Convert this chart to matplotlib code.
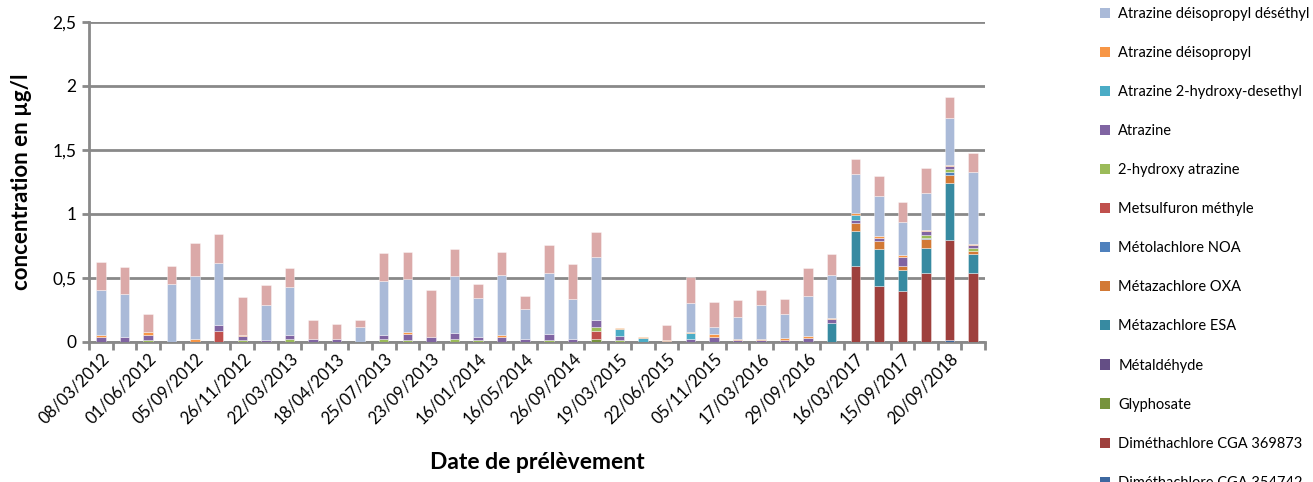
import matplotlib
matplotlib.use("Agg")
import matplotlib.pyplot as plt
from matplotlib.patches import Patch
from matplotlib.transforms import ScaledTranslation
import numpy as np

# ---------------- data ----------------
date_labels = ["08/03/2012", "01/06/2012", "05/09/2012", "26/11/2012", "22/03/2013",
               "18/04/2013", "25/07/2013", "23/09/2013", "16/01/2014", "16/05/2014",
               "26/09/2014", "19/03/2015", "22/06/2015", "05/11/2015", "17/03/2016",
               "29/09/2016", "16/03/2017", "15/09/2017", "20/09/2018"]
n_samples = 38  # one label shown every two samples

dimetha_354742 = [0]*36 + [0.013, 0]
dimetha_369873 = [0]*32 + [0.593, 0.434, 0.395, 0.541, 0.782, 0.536]
glyphosate = [0]*21 + [0.026] + [0]*16
metaldehyde = [0]*38
metaza_esa = [0]*31 + [0.146, 0.275, 0.293, 0.167, 0.193, 0.450, 0.149]
metaza_oxa = [0]*32 + [0.058, 0.063, 0.034, 0.068, 0.060, 0.026]
metola_noa = [0]*35 + [0.010, 0.024, 0]
metsulfuron = [0, 0, 0, 0, 0, 0.084] + [0]*15 + [0.058] + [0]*16
hydroxy_atrazine = [0, 0, 0.018, 0, 0, 0, 0.018, 0, 0.026, 0,
                    0, 0, 0.024, 0.016, 0, 0.024, 0.016, 0, 0, 0.018,
                    0, 0.034, 0.018, 0, 0, 0, 0, 0, 0, 0,
                    0, 0, 0, 0, 0, 0.024, 0.021, 0.026]
atrazine = [0.040, 0.037, 0.037, 0, 0, 0.052, 0.026, 0.016, 0.031, 0.026,
            0.026, 0, 0.031, 0.050, 0.042, 0.050, 0.026, 0.037, 0.026, 0.047,
            0.026, 0.055, 0.029, 0, 0.010, 0.026, 0.042, 0.018, 0.018, 0.018,
            0.034, 0.031, 0.029, 0.026, 0.068, 0.031, 0.024, 0.021]
atrazine_2oh_desethyl = [0]*22 + [0.052, 0.034, 0, 0.042] + [0]*6 + [0.037] + [0]*5
atrazine_dia = [0.016, 0, 0.021, 0, 0.026, 0, 0.010, 0, 0, 0,
                0, 0, 0, 0.016, 0, 0, 0, 0.018, 0, 0,
                0, 0, 0.013, 0.008, 0.008, 0.010, 0.024, 0.008, 0.005, 0.016,
                0.016, 0.010, 0.013, 0.010, 0.016, 0.008, 0.010, 0.010]
atrazine_dedia = [0.350, 0.340, 0, 0.455, 0.489, 0.481, 0, 0.270, 0.369, 0,
                  0, 0.115, 0.421, 0.413, 0, 0.442, 0.300, 0.470, 0.230, 0.473,
                  0.308, 0.490, 0, 0, 0, 0.227, 0.052, 0.173, 0.264, 0.183,
                  0.310, 0.337, 0.311, 0.314, 0.261, 0.290, 0.369, 0.560]
atrazine_dea = [0.222, 0.212, 0.139, 0.141, 0.261, 0.230, 0.300, 0.160, 0.149, 0.149,
                0.115, 0.058, 0.220, 0.212, 0.363, 0.212, 0.112, 0.180, 0.107, 0.217,
                0.272, 0.193, 0, 0, 0.115, 0.200, 0.196, 0.130, 0.120, 0.120,
                0.217, 0.160, 0.110, 0.154, 0.154, 0.193, 0.162, 0.146]

series = [
    ("Diméthachlore CGA 354742", dimetha_354742, "#3D68A0"),
    ("Diméthachlore CGA 369873", dimetha_369873, "#9E403D"),
    ("Glyphosate", glyphosate, "#77933C"),
    ("Métaldéhyde", metaldehyde, "#644E85"),
    ("Métazachlore ESA", metaza_esa, "#378AA1"),
    ("Métazachlore OXA", metaza_oxa, "#D27935"),
    ("Métolachlore NOA", metola_noa, "#4F81BD"),
    ("Metsulfuron méthyle", metsulfuron, "#C0504D"),
    ("2-hydroxy atrazine", hydroxy_atrazine, "#9BBB59"),
    ("Atrazine", atrazine, "#8064A2"),
    ("Atrazine 2-hydroxy-desethyl", atrazine_2oh_desethyl, "#4BACC6"),
    ("Atrazine déisopropyl", atrazine_dia, "#F79646"),
    ("Atrazine déisopropyl déséthyl", atrazine_dedia, "#AABAD8"),
    ("Atrazine déséthyl", atrazine_dea, "#DBA9A8"),
]

# ---------------- figure ----------------
plt.rcParams['font.family'] = ['Lato', 'DejaVu Sans']
W, H = 1313, 482
fig = plt.figure(figsize=(W/100, H/100), dpi=100)
ax = fig.add_axes([89/W, 1-342/H, (985-89)/W, (342-22)/H])

grey = "#898989"
x = np.arange(n_samples)
bottom = np.zeros(n_samples)
for name, vals, col in series:
    v = np.array(vals, dtype=float)
    m = v > 0
    ax.bar(x[m], v[m], bottom=bottom[m], width=0.40, color=col,
           edgecolor=(1, 1, 1, 0.45), linewidth=0.6, zorder=3)
    bottom += v

ax.set_xlim(-0.5, n_samples - 0.5)
ax.set_ylim(0, 2.5)
ax.set_yticks([0, 0.5, 1, 1.5, 2, 2.5])
ax.set_yticklabels(["0", "0,5", "1", "1,5", "2", "2,5"], fontsize=12.5)
ax.yaxis.grid(True, color=grey, linewidth=2, zorder=0)
ax.set_axisbelow(True)

ax.set_xticks(x[::2])
ax.set_xticklabels(date_labels, rotation=45, ha='right', rotation_mode='anchor', fontsize=12)
shift = ScaledTranslation(9/100, 0, fig.dpi_scale_trans)
for lbl in ax.get_xticklabels():
    lbl.set_transform(lbl.get_transform() + shift)
ax.set_xticks(np.arange(-0.5, n_samples, 1.0), minor=True)
ax.tick_params(axis='x', which='major', length=0, pad=6)
ax.tick_params(axis='x', which='minor', length=6, width=2, color=grey)
ax.tick_params(axis='y', length=5, width=2, color=grey, pad=4)

for s in ['top', 'right']:
    ax.spines[s].set_visible(False)
for s in ['left', 'bottom']:
    ax.spines[s].set_color(grey)
    ax.spines[s].set_linewidth(2)

ax.set_ylabel("concentration en µg/l", fontsize=16, fontweight='bold', labelpad=15)
ax.set_xlabel("Date de prélèvement", fontsize=16.5, fontweight='bold', labelpad=18)

# legend (top entry of the stack lies above the visible area in the reference)
handles = [Patch(facecolor=c, edgecolor='none') for _, _, c in series][::-1][1:]
labels = [n for n, _, _ in series][::-1][1:]
fig.legend(handles, labels, loc='upper left', bbox_to_anchor=(1100/W, 1-6.8/H),
           frameon=False, fontsize=10.5, handlelength=0.7, handleheight=0.7,
           handletextpad=0.55, labelspacing=1.72, borderpad=0, borderaxespad=0)

fig.savefig("out.png", dpi=100)
